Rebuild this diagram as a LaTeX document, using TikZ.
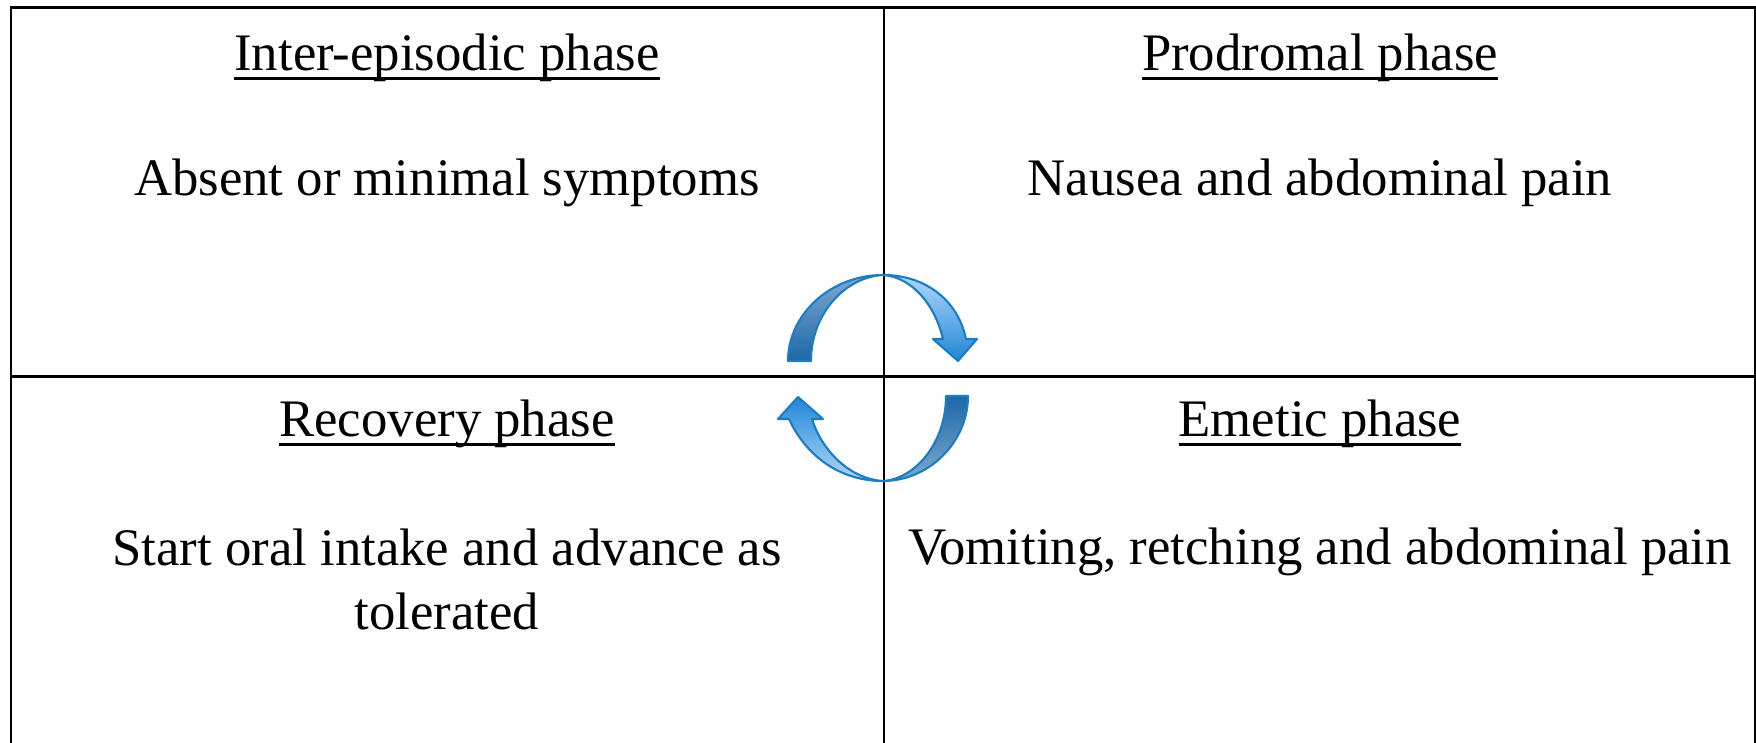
\documentclass[tikz,border=0pt]{standalone}
\usepackage{fontspec}
\setmainfont{Liberation Serif}
\usepackage{tikz}
\usetikzlibrary{positioning}

\definecolor{cycline}{HTML}{1B7DC2}
\definecolor{cycdark}{HTML}{1C68A6}
\definecolor{cycsteel}{HTML}{7FA9D2}
\definecolor{cyclight}{HTML}{B0D8FC}
\definecolor{cycmid}{HTML}{1F86D6}

% underline that runs through the descenders
\newcommand{\phasetitle}[1]{\setbox0\hbox{#1}\rlap{\rule[-2.7pt]{\wd0}{0.85pt}}\box0}

\begin{document}
\begin{tikzpicture}[
        x=0.01cm, y=0.01cm,
        grid/.style={line width=0.85pt, black},
        title/.style={inner sep=0pt, anchor=base, font=\fontsize{15}{18.2}\selectfont},
        body/.style={inner sep=0pt, anchor=base, align=center, font=\fontsize{15}{18.2}\selectfont},
        cyc/.style={draw=cycline, line width=0.6pt, line join=round}
    ]
        \useasboundingbox (0,0) rectangle (1756,-743);

        % table
        \draw[grid] (11,-750) -- (11,-8) -- (1755,-8) -- (1755,-750);
        \draw[grid] (11,-377) -- (1756,-377);
        \draw[grid] (884,-8) -- (884,-750);

        % cells
        \node[title] (inter) at (447,-71) {\phasetitle{Inter-episodic phase}};
        \node[body] (absent) at (447,-196) {Absent or minimal symptoms};
        \node[title] (prodromal) at (1320,-71) {\phasetitle{Prodromal phase}};
        \node[body] (nausea) at (1320,-196) {Nausea and abdominal pain};
        \node[title] (recovery) at (447,-437) {\phasetitle{Recovery phase}};
        \node[body] (intake) at (447,-630) {Start oral intake and advance as\\tolerated};
        \node[title] (emetic) at (1320,-437) {\phasetitle{Emetic phase}};
        \node[body] (vomit) at (1320,-565) {Vomiting, retching and abdominal pain};

        % cycle arrows, upper one
        \path[cyc, top color=cycsteel, bottom color=cycdark]
            (788,-361) .. controls (788,-314) and (831,-275) .. (883,-275)
            .. controls (845,-277) and (811,-314) .. (811,-361) -- cycle;
        \path[cyc, top color=cyclight, bottom color=cycmid]
            (883,-275) .. controls (925,-275) and (958,-300) .. (966,-339)
            -- (977,-339) -- (958,-361) -- (933,-339) -- (943,-339)
            .. controls (935,-305) and (912,-277) .. (883,-275) -- cycle;
        % lower one
        \path[cyc, top color=cycdark, bottom color=cycsteel]
            (968,-396) .. controls (968,-443) and (928,-481) .. (883,-481)
            .. controls (915,-479) and (946,-443) .. (946,-396) -- cycle;
        \path[cyc, top color=cycmid, bottom color=cyclight]
            (883,-481) .. controls (840,-481) and (806,-456) .. (789,-419)
            -- (778,-419) -- (798,-397) -- (823,-419) -- (812,-419)
            .. controls (822,-451) and (850,-479) .. (883,-481) -- cycle;
    \end{tikzpicture}
\end{document}
